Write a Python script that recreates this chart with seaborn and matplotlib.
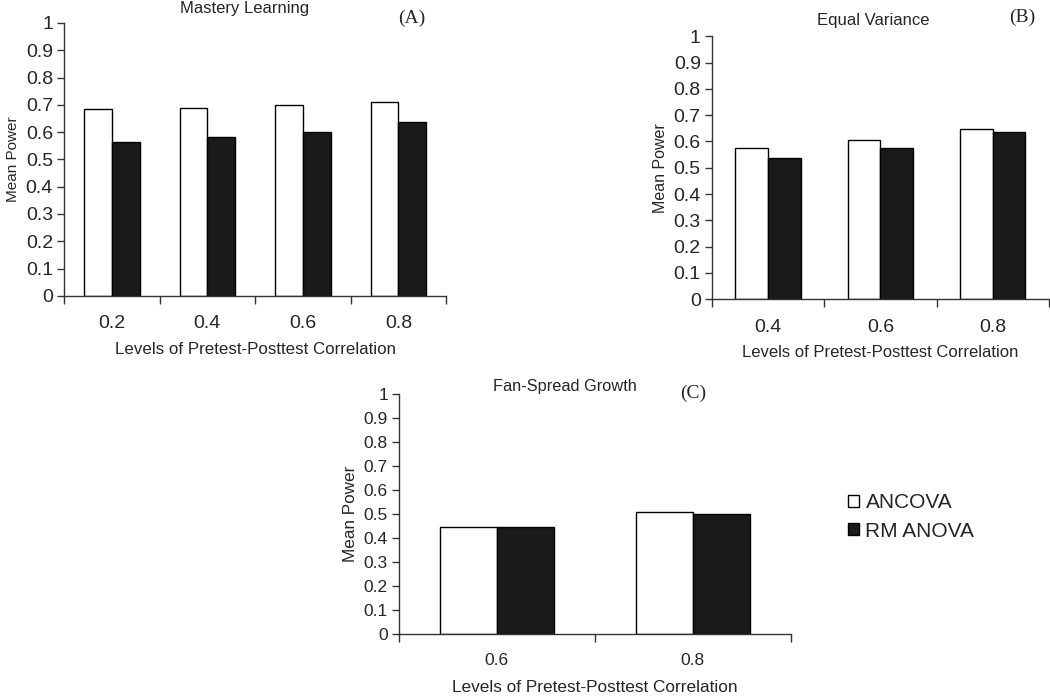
import matplotlib
matplotlib.use("Agg")
import matplotlib.pyplot as plt
import matplotlib.patches as mpatches
import seaborn as sns
import pandas as pd
import numpy as np

# ---- data ----
methods = ["ANCOVA", "RM ANOVA"]

levels_a = ["0.2", "0.4", "0.6", "0.8"]
ancova_a = [0.683, 0.690, 0.698, 0.711]
rm_a = [0.565, 0.582, 0.601, 0.638]

levels_b = ["0.4", "0.6", "0.8"]
ancova_b = [0.576, 0.605, 0.648]
rm_b = [0.538, 0.576, 0.635]

levels_c = ["0.6", "0.8"]
ancova_c = [0.447, 0.508]
rm_c = [0.447, 0.500]

yticks = [0, 0.1, 0.2, 0.3, 0.4, 0.5, 0.6, 0.7, 0.8, 0.9, 1.0]
ytick_labels = ["0", "0.1", "0.2", "0.3", "0.4", "0.5", "0.6", "0.7", "0.8", "0.9", "1"]

titles = ["Mastery Learning", "Equal Variance", "Fan-Spread Growth"]
tags = ["(A)", "(B)", "(C)"]
xlabel = "Levels of Pretest-Posttest Correlation"
ylabel = "Mean Power"

sns.set_theme(style="ticks")
plt.rcParams["font.family"] = ["Liberation Sans", "DejaVu Sans"]

palette = {"ANCOVA": "white", "RM ANOVA": "#1a1a1a"}

fig = plt.figure(figsize=(10.5, 6.96), dpi=100)
fig.patch.set_facecolor("white")

positions = [
    [0.061, 0.575, 0.364, 0.392],
    [0.678, 0.570, 0.321, 0.378],
    [0.380, 0.0891, 0.373, 0.345],
]


def make_df(levels, anc, rm):
    return pd.DataFrame({
        "level": levels * 2,
        "method": ["ANCOVA"] * len(levels) + ["RM ANOVA"] * len(levels),
        "power": list(anc) + list(rm),
    })


datasets = [
    make_df(levels_a, ancova_a, rm_a),
    make_df(levels_b, ancova_b, rm_b),
    make_df(levels_c, ancova_c, rm_c),
]
level_lists = [levels_a, levels_b, levels_c]
tick_fs = [14, 14, 12.5]
ylab_fs = [11, 11.5, 12.3]
xlab_fs = [12.2, 12, 12.4]

for i, (pos, df, lv) in enumerate(zip(positions, datasets, level_lists)):
    ax = fig.add_axes(pos)
    sns.barplot(data=df, x="level", y="power", hue="method", order=lv,
                hue_order=methods, palette=palette, width=0.58,
                edgecolor="black", linewidth=1.0, ax=ax, legend=False,
                saturation=1)
    ax.set_ylim(0, 1)
    ax.set_xlim(-0.5, len(lv) - 0.5)
    ax.set_yticks(yticks)
    ax.set_yticklabels(ytick_labels, fontsize=tick_fs[i])
    ax.tick_params(axis="y", direction="out", length=5, width=1, color="#333333", pad=3)
    ax.tick_params(axis="x", which="major", length=0, labelsize=tick_fs[i], pad=14)
    ax.set_xticks(np.arange(-0.5, len(lv), 1.0), minor=True)
    ax.tick_params(axis="x", which="minor", direction="out", length=6, width=1, color="#333333")
    sns.despine(ax=ax)
    for s in ["left", "bottom"]:
        ax.spines[s].set_color("#333333")
        ax.spines[s].set_linewidth(1.0)
    ax.set_ylabel(ylabel, fontsize=ylab_fs[i], labelpad=4)
    ax.set_xlabel(xlabel, fontsize=xlab_fs[i], labelpad=8 if i == 2 else 7)
    ax.set_facecolor("white")

serif = ["Liberation Serif", "DejaVu Serif"]
# titles and tags in figure coordinates
fig.text(245 / 1050, 1 - 8 / 696, titles[0], ha="center", va="center", fontsize=12)
fig.text(412 / 1050, 1 - 18 / 696, tags[0], ha="center", va="center", fontsize=14, family=serif)
fig.text(873 / 1050, 1 - 20 / 696, titles[1], ha="center", va="center", fontsize=12)
fig.text(1022 / 1050, 1 - 17 / 696, tags[1], ha="center", va="center", fontsize=14, family=serif)
fig.text(565 / 1050, 1 - 387 / 696, titles[2], ha="center", va="center", fontsize=11.8)
fig.text(693 / 1050, 1 - 393 / 696, tags[2], ha="center", va="center", fontsize=14, family=serif)

handles = [mpatches.Patch(facecolor=palette[m], edgecolor="black", linewidth=1.0, label=m)
           for m in methods]
fig.legend(handles=handles, loc="center left", bbox_to_anchor=(829 / 1050, 1 - 517 / 696),
           frameon=False, fontsize=15, handlelength=0.55, handleheight=0.5,
           handletextpad=0.3, labelspacing=0.45)

fig.savefig("out.png", dpi=100, facecolor="white")
